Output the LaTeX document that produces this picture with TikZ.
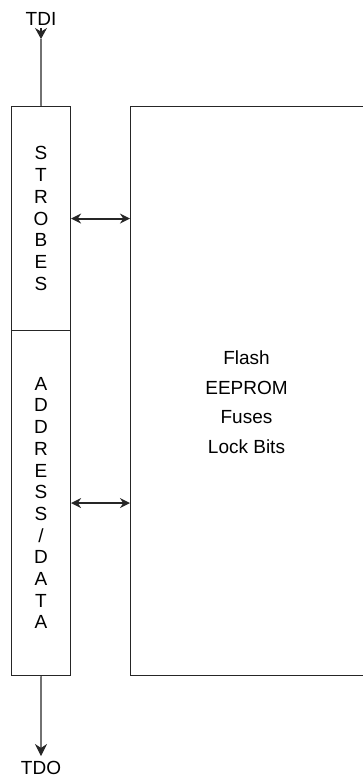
\documentclass[tikz,border=0pt]{standalone}
\usepackage{fontspec}
\setmainfont{Liberation Sans}
\usetikzlibrary{arrows.meta}
\begin{document}
\begin{tikzpicture}[x=1pt,y=-1pt,
  box/.style={draw=black!85,line width=1.1pt,inner sep=0pt,anchor=north west},
  lbl/.style={font=\fontsize{19}{22}\selectfont,inner sep=0pt},
  col/.style={font=\fontsize{19}{21.7}\selectfont,inner sep=0pt,align=center},
  bus/.style={line width=2pt,draw=black!85,{Stealth[length=10pt,width=10pt]}-{Stealth[length=10pt,width=10pt]}},
  sig/.style={line width=1.1pt,draw=black!85}]
\useasboundingbox (0,0) rectangle (363,780);
\begin{scope}
\clip (0,0) rectangle (363,780);
\node[box,minimum width=59pt,minimum height=224pt] (strobes) at (11,106) {};
\node[box,minimum width=59pt,minimum height=345pt] (addr) at (11,330) {};
\node[box,minimum width=250pt,minimum height=569pt] (mem) at (130,106) {};
\end{scope}
\node[col] (strobestxt) at (strobes.center) {S\\T\\R\\O\\B\\E\\S};
\node[col] (addrtxt) at (addr.center) {A\\D\\D\\R\\E\\S\\S\\/\\D\\A\\T\\A};
\node[lbl,align=center,font=\fontsize{19}{29.5}\selectfont] (memtxt) at (246.5,402) {Flash\\EEPROM\\Fuses\\Lock Bits};
\node[lbl] (tdi) at (41,19) {TDI};
\node[lbl] (tdo) at (41,768) {TDO};
\coordinate (tdiarr) at (41,39);
\coordinate (tdoarr) at (41,756);
\draw[sig,-{Stealth[length=11pt,width=12pt]}] (41,28) -- (tdiarr);
\draw[sig] (tdiarr) -- (strobes.north);
\draw[sig,-{Stealth[length=12pt,width=12pt]}] (addr.south) -- (tdoarr);
\draw[bus] (strobes.east) -- (strobes.east -| mem.west);
\draw[bus] (addr.east) -- (addr.east -| mem.west);
\end{tikzpicture}
\end{document}
